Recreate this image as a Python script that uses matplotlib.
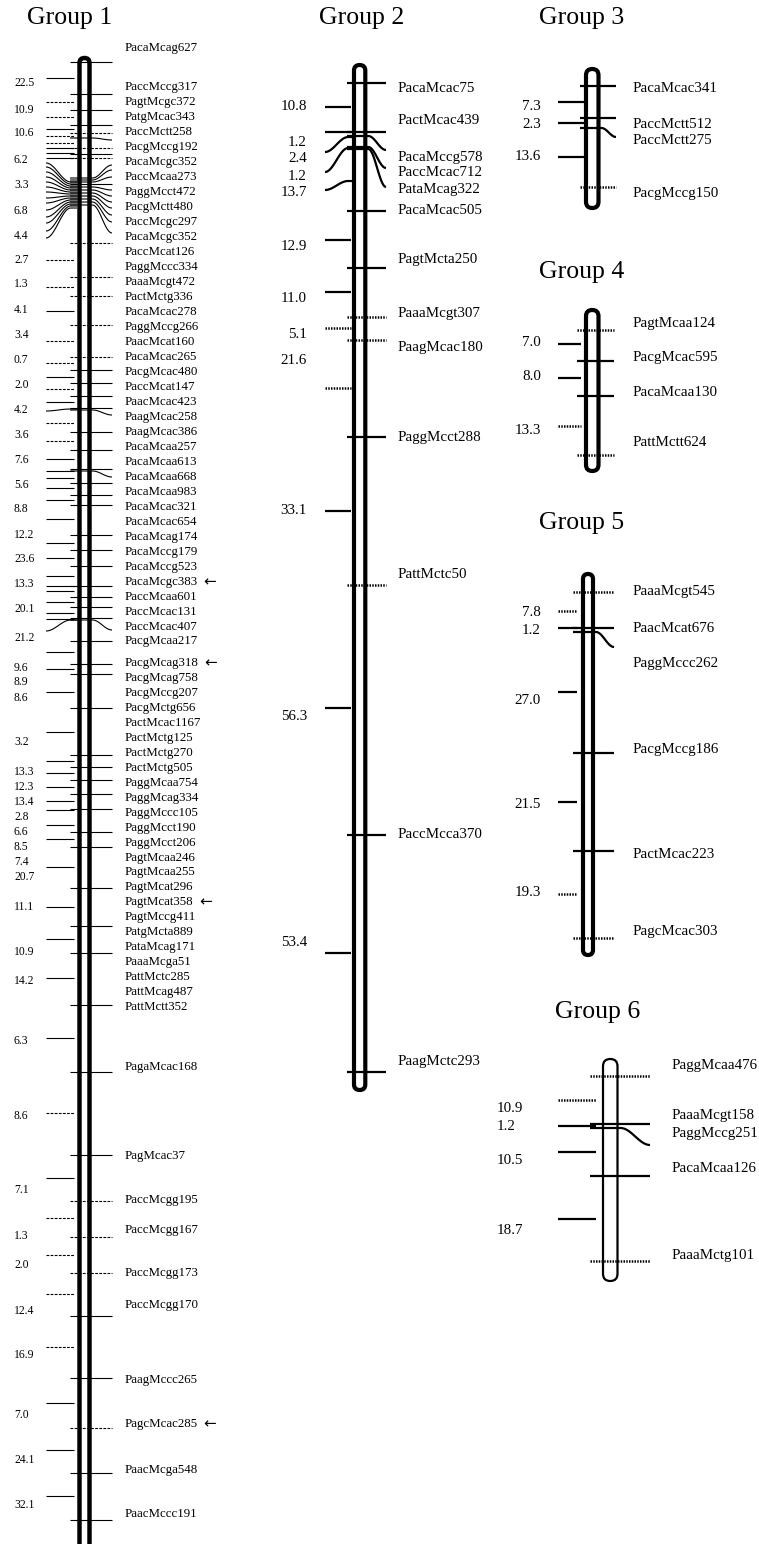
import matplotlib.pyplot as plt
import numpy as np
from matplotlib.patches import FancyBboxPatch

plt.rcParams['font.family'] = ['Liberation Serif', 'DejaVu Sans']

# ---- Group 1 ----
g1_markers = ["PacaMcag627", "PaccMccg317", "PagtMcgc372", "PatgMcac343", "PaccMctt258",
              "PacgMccg192", "PacaMcgc352", "PaccMcaa273", "PaggMcct472", "PacgMctt480",
              "PaccMcgc297", "PacaMcgc352", "PaccMcat126", "PaggMccc334", "PaaaMcgt472",
              "PactMctg336", "PacaMcac278", "PaggMccg266", "PaacMcat160", "PacaMcac265",
              "PacgMcac480", "PaccMcat147", "PaacMcac423", "PaagMcac258", "PaagMcac386",
              "PacaMcaa257", "PacaMcaa613", "PacaMcaa668", "PacaMcaa983", "PacaMcac321",
              "PacaMcac654", "PacaMcag174", "PacaMccg179", "PacaMccg523", "PacaMcgc383",
              "PaccMcaa601", "PaccMcac131", "PaccMcac407", "PacgMcaa217", "PacgMcag318",
              "PacgMcag758", "PacgMccg207", "PacgMctg656", "PactMcac1167", "PactMctg125",
              "PactMctg270", "PactMctg505", "PaggMcaa754", "PaggMcag334", "PaggMccc105",
              "PaggMcct190", "PaggMcct206", "PagtMcaa246", "PagtMcaa255", "PagtMcat296",
              "PagtMcat358", "PagtMccg411", "PatgMcta889", "PataMcag171", "PaaaMcga51",
              "PattMctc285", "PattMcag487", "PattMctt352", "PagaMcac168", "PagMcac37",
              "PaccMcgg195", "PaccMcgg167", "PaccMcgg173", "PaccMcgg170", "PaagMccc265",
              "PagcMcac285", "PaacMcga548", "PaacMccc191"]
g1_marker_y = [48, 87, 102, 117, 132, 147, 162, 177, 192, 207, 222, 237, 252, 267, 282,
               297, 312, 327, 342, 357, 372, 387, 402, 417, 432, 447, 462, 477, 492, 507,
               522, 537, 552, 567, 582, 597, 612, 627, 641, 663, 678, 693, 708, 723, 738,
               753, 768, 783, 798, 813, 828, 843, 858, 872, 887, 902, 917, 932, 947, 962,
               977, 992, 1007, 1067, 1156, 1200, 1230, 1273, 1305, 1380, 1424, 1470, 1514]
g1_flagged = ["PacaMcgc383", "PacgMcag318", "PagtMcat358", "PagcMcac285"]
g1_nums = ["22.5", "10.9", "10.6", "6.2", "3.3", "6.8", "4.4", "2.7", "1.3", "4.1", "3.4",
           "0.7", "2.0", "4.2", "3.6", "7.6", "5.6", "8.8", "12.2", "23.6", "13.3", "20.1",
           "21.2", "9.6", "8.9", "8.6", "3.2", "13.3", "12.3", "13.4", "2.8", "6.6", "8.5",
           "7.4", "20.7", "11.1", "10.9", "14.2", "6.3", "8.6", "7.1", "1.3", "2.0", "12.4",
           "16.9", "7.0", "24.1", "32.1"]
g1_num_y = [83, 110, 133, 160, 185, 211, 236, 260, 284, 310, 335, 360, 385, 410, 435, 460,
            485, 509, 535, 559, 584, 609, 638, 668, 682, 698, 742, 772, 787, 802, 817, 832,
            847, 862, 877, 907, 952, 981, 1041, 1116, 1190, 1236, 1265, 1311, 1355, 1415,
            1460, 1505]
g1_right_solid = [62, 94, 110, 125, 154, 370, 383, 396, 408, 432, 450, 469, 483, 495, 505,
                  535, 550, 566, 586, 597, 607, 618, 641, 664, 674, 708, 755, 767, 780, 794,
                  809, 832, 847, 888, 926, 953, 1005, 1072, 1155, 1316, 1378, 1473, 1520]
g1_right_dashed = [133, 148, 158, 243, 277, 296, 325, 357, 1201, 1237, 1273, 1428]
g1_right_bend_from = [138, 178, 180, 182, 184, 187, 190, 193, 196, 199, 202, 205, 410, 471, 620]
g1_right_bend_to = [140, 165, 170, 177, 184, 190, 196, 202, 208, 215, 222, 233, 415, 477, 630]
g1_left_solid = [78, 129, 148, 153, 158, 311, 377, 402, 459, 471, 478, 488, 500, 519, 543,
                 558, 576, 586, 591, 602, 613, 619, 652, 669, 692, 732, 761, 773, 787, 801,
                 810, 825, 839, 867, 907, 939, 978, 1038, 1178, 1403, 1450, 1496]
g1_left_dashed = [102, 117, 136, 143, 260, 287, 341, 363, 389, 423, 441, 1113, 1218, 1255,
                  1294, 1347]
g1_left_bend_from = [182, 184, 186, 188, 190, 192, 194, 196, 198, 200, 202, 204, 206, 208, 409, 620]
g1_left_bend_to = [163, 167, 172, 177, 182, 187, 192, 198, 203, 210, 217, 223, 231, 238, 411, 631]

# ---- Group 2 ----
g2_markers = ["PacaMcac75", "PactMcac439", "PacaMccg578", "PaccMcac712", "PataMcag322",
              "PacaMcac505", "PagtMcta250", "PaaaMcgt307", "PaagMcac180", "PaggMcct288",
              "PattMctc50", "PaccMcca370", "PaagMctc293"]
g2_marker_y = [88, 121, 157, 173, 190, 210, 260, 313, 348, 437, 575, 835, 1062]
g2_nums = ["10.8", "1.2", "2.4", "1.2", "13.7", "12.9", "11.0", "5.1", "21.6", "33.1",
           "56.3", "53.4"]
g2_num_y = [107, 142, 159, 176, 193, 246, 298, 334, 360, 510, 717, 943]
g2_right_solid = [83, 132, 211, 268, 437, 835, 1072]
g2_right_dashed = [317, 340, 585]
g2_right_bend_from = [136, 147, 149]
g2_right_bend_to = [150, 168, 187]
g2_left_solid = [107, 132, 240, 292, 511, 708, 953]
g2_left_dashed = [328, 388]
g2_left_bend_from = [137, 148, 181]
g2_left_bend_to = [152, 172, 190]

# ---- Group 3 ----
g3_markers = ["PacaMcac341", "PaccMctt512", "PaccMctt275", "PacgMccg150"]
g3_marker_y = [89, 124, 141, 193]
g3_nums = ["7.3", "2.3", "13.6"]
g3_num_y = [107, 124, 157]
g3_right_solid = [86, 118]
g3_right_dashed = [187]
g3_right_bend_from = [128]
g3_right_bend_to = [137]
g3_left_solid = [102, 123, 157]
g3_left_dashed = []

# ---- Group 4 ----
g4_markers = ["PagtMcaa124", "PacgMcac595", "PacaMcaa130", "PattMctt624"]
g4_marker_y = [323, 357, 392, 443]
g4_nums = ["7.0", "8.0", "13.3"]
g4_num_y = [342, 377, 430]
g4_right_solid = [361, 396]
g4_right_dashed = [330, 455]
g4_left_solid = [344, 378]
g4_left_dashed = [426]

# ---- Group 5 ----
g5_markers = ["PaaaMcgt545", "PaacMcat676", "PaggMccc262", "PacgMccg186", "PactMcac223",
              "PagcMcac303"]
g5_marker_y = [592, 628, 663, 750, 855, 932]
g5_nums = ["7.8", "1.2", "27.0", "21.5", "19.3"]
g5_num_y = [612, 630, 700, 804, 893]
g5_right_solid = [628, 753, 851]
g5_right_dashed = [592, 938]
g5_right_bend_from = [632]
g5_right_bend_to = [647]
g5_left_solid = [628, 692, 802]
g5_left_dashed = [611, 894]

# ---- Group 6 ----
g6_markers = ["PaggMcaa476", "PaaaMcgt158", "PaggMccg251", "PacaMcaa126", "PaaaMctg101"]
g6_marker_y = [1065, 1115, 1134, 1168, 1255]
g6_nums = ["10.9", "1.2", "10.5", "18.7"]
g6_num_y = [1108, 1126, 1161, 1231]
g6_right_solid = [1124, 1176]
g6_right_dashed = [1076, 1261]
g6_right_bend_from = [1128]
g6_right_bend_to = [1145]
g6_left_solid = [1126, 1152, 1219]
g6_left_dashed = [1100]


def bent(x_near, x_far, y_in, y_out, flat):
    t = np.linspace(0, 1, 40)
    s = np.clip((t - flat) / (1 - flat), 0, 1)
    ys = y_in + (y_out - y_in) * (0.5 - 0.5 * np.cos(np.pi * s))
    return x_near + (x_far - x_near) * t, ys


def draw_group(ax, g, markers, marker_y, nums, num_y, r_solid, r_dashed, l_solid, l_dashed,
               rb_from=(), rb_to=(), lb_from=(), lb_to=(), flagged=()):
    w = g['x1'] - g['x0']
    bar = FancyBboxPatch((g['x0'], g['top']), w, g['bot'] - g['top'],
                         boxstyle=f"round,pad=0,rounding_size={w / 2}",
                         fc='white', ec='black', lw=g['bar_lw'], zorder=2)
    ax.add_patch(bar)
    solid = dict(color='black', lw=g['lw'], solid_capstyle='butt', zorder=3)
    dashed = dict(color='black', lw=g['dlw'], linestyle=g['dash'], zorder=3)
    for y in r_solid:
        ax.plot([g['r0'], g['r1']], [y, y], **solid)
    for y in r_dashed:
        ax.plot([g['r0'], g['r1']], [y, y], **dashed)
    for y in l_solid:
        ax.plot([g['l0'], g['l1']], [y, y], **solid)
    for y in l_dashed:
        ax.plot([g['l0'], g['l1']], [y, y], **dashed)
    flat_r = (g['x1'] + 3 - g['r0']) / (g['r1'] - g['r0'])
    for a, b in zip(rb_from, rb_to):
        xs, ys = bent(g['r0'], g['r1'], a, b, flat_r)
        ax.plot(xs, ys, **solid)
    for a, b in zip(lb_from, lb_to):
        xs, ys = bent(g['l1'] + 3, g['l0'], a, b, 0.2)
        ax.plot(xs, ys, **solid)
    for name, y in zip(markers, marker_y):
        t = ax.text(g['lab_x'], y, name, fontsize=g['lab_fs'], va='center', ha='left')
        if name in flagged:
            ax.annotate('\u2190', xy=(1, 0.5), xycoords=t, xytext=(4, 0),
                        textcoords='offset points', va='center', ha='left',
                        fontsize=11, family='DejaVu Sans')
    for n, y in zip(nums, num_y):
        ax.text(g['num_x'], y, n, fontsize=g['num_fs'], va='center', ha=g['num_ha'])
    ax.text(g['tx'], g['ty'], g['title'], fontsize=18.5, ha='center', va='center')


fig = plt.figure(figsize=(7.59, 15.44), dpi=100)
ax = fig.add_axes([0, 0, 1, 1])
ax.set_xlim(0, 759)
ax.set_ylim(1544, 0)
ax.axis('off')

geo1 = dict(x0=79.5, x1=89.5, top=58, bot=1600, bar_lw=3.2, lw=0.8, dlw=0.8,
            dash=(0, (2.5, 1.2)), r0=70, r1=112, l0=46, l1=74, lab_x=125, num_x=14,
            num_ha='left', lab_fs=9.3, num_fs=8.4, tx=70, ty=18, title='Group 1')
geo2 = dict(x0=354, x1=365.3, top=65, bot=1090, bar_lw=3.0, lw=1.6, dlw=1.8,
            dash=(0, (0.6, 0.5)), r0=347, r1=386, l0=325, l1=351, lab_x=398, num_x=307,
            num_ha='right', lab_fs=10.8, num_fs=10.8, tx=362, ty=18, title='Group 2')
geo3 = dict(x0=586, x1=598.5, top=69, bot=208, bar_lw=3.0, lw=1.6, dlw=1.8,
            dash=(0, (0.6, 0.5)), r0=580, r1=616, l0=558, l1=585, lab_x=633, num_x=541,
            num_ha='right', lab_fs=10.8, num_fs=10.8, tx=582, ty=18, title='Group 3')
geo4 = dict(x0=586, x1=598.5, top=310, bot=471, bar_lw=3.0, lw=1.6, dlw=1.8,
            dash=(0, (0.6, 0.5)), r0=577, r1=614, l0=558, l1=581, lab_x=633, num_x=541,
            num_ha='right', lab_fs=10.8, num_fs=10.8, tx=582, ty=272, title='Group 4')
geo5 = dict(x0=583, x1=593, top=574, bot=955, bar_lw=3.0, lw=1.6, dlw=1.8,
            dash=(0, (0.6, 0.5)), r0=573, r1=614, l0=558, l1=577, lab_x=633, num_x=541,
            num_ha='right', lab_fs=10.8, num_fs=10.8, tx=582, ty=523, title='Group 5')
geo6 = dict(x0=603, x1=617.5, top=1059, bot=1281, bar_lw=1.6, lw=1.6, dlw=1.8,
            dash=(0, (0.6, 0.5)), r0=590, r1=650, l0=558, l1=596, lab_x=672, num_x=497,
            num_ha='left', lab_fs=10.8, num_fs=10.8, tx=598, ty=1012, title='Group 6')

draw_group(ax, geo1, g1_markers, g1_marker_y, g1_nums, g1_num_y, g1_right_solid,
           g1_right_dashed, g1_left_solid, g1_left_dashed, g1_right_bend_from,
           g1_right_bend_to, g1_left_bend_from, g1_left_bend_to, g1_flagged)
draw_group(ax, geo2, g2_markers, g2_marker_y, g2_nums, g2_num_y, g2_right_solid,
           g2_right_dashed, g2_left_solid, g2_left_dashed, g2_right_bend_from,
           g2_right_bend_to, g2_left_bend_from, g2_left_bend_to)
draw_group(ax, geo3, g3_markers, g3_marker_y, g3_nums, g3_num_y, g3_right_solid,
           g3_right_dashed, g3_left_solid, g3_left_dashed, g3_right_bend_from,
           g3_right_bend_to)
draw_group(ax, geo4, g4_markers, g4_marker_y, g4_nums, g4_num_y, g4_right_solid,
           g4_right_dashed, g4_left_solid, g4_left_dashed)
draw_group(ax, geo5, g5_markers, g5_marker_y, g5_nums, g5_num_y, g5_right_solid,
           g5_right_dashed, g5_left_solid, g5_left_dashed, g5_right_bend_from,
           g5_right_bend_to)
draw_group(ax, geo6, g6_markers, g6_marker_y, g6_nums, g6_num_y, g6_right_solid,
           g6_right_dashed, g6_left_solid, g6_left_dashed, g6_right_bend_from,
           g6_right_bend_to)

fig.savefig('out.png', dpi=100)
